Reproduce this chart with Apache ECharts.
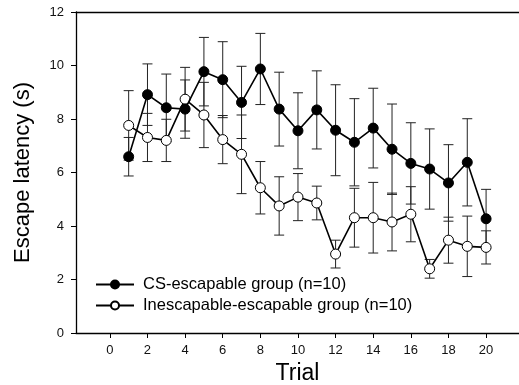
<!DOCTYPE html>
<html>
<head>
<meta charset="utf-8">
<script src="https://cdn.jsdelivr.net/npm/echarts@6/dist/echarts.min.js"></script>
<style>html,body{margin:0;padding:0;background:#fff}#c{width:519px;height:385px}</style>
</head>
<body>
<div id="c"></div>
<script>
var trials = [1,2,3,4,5,6,7,8,9,10,11,12,13,14,15,16,17,18,19,20];
var csMean = [6.59, 8.91, 8.42, 8.37, 9.77, 9.47, 8.62, 9.87, 8.37, 7.56, 8.34, 7.58, 7.13, 7.66, 6.87, 6.34, 6.13, 5.61, 6.38, 4.27];
var csErr  = [0.72, 1.15, 1.26, 1.09, 1.28, 1.42, 1.35, 1.33, 1.38, 1.42, 1.46, 1.70, 1.63, 1.49, 1.69, 1.52, 1.50, 1.43, 1.63, 1.10];
var inMean = [7.76, 7.31, 7.20, 8.74, 8.15, 7.23, 6.68, 5.43, 4.75, 5.08, 4.86, 2.95, 4.31, 4.31, 4.15, 4.44, 2.40, 3.47, 3.24, 3.20];
var inErr  = [1.30, 0.90, 0.79, 1.19, 1.22, 0.90, 1.47, 0.98, 1.09, 0.88, 0.63, 0.52, 1.10, 1.32, 1.08, 1.03, 0.35, 0.86, 1.13, 0.62];
var xTicks = [0,2,4,6,8,10,12,14,16,18,20];
var seriesNames = ['CS-escapable group (n=10)', 'Inescapable-escapable group (n=10)'];

var font = 'Liberation Sans, Arial, sans-serif';
function pts(m){ return trials.map(function(t,i){ return [t, m[i]]; }); }
function errData(m,e){ return trials.map(function(t,i){ return [t, m[i]-e[i], m[i]+e[i]]; }); }
function errRender(params, api){
  var x = api.value(0), lo = api.value(1), hi = api.value(2);
  var p1 = api.coord([x, hi]), p2 = api.coord([x, lo]);
  var w = 5;
  var st = {stroke:'#222', lineWidth:1};
  return {type:'group', children:[
    {type:'line', shape:{x1:p1[0],y1:p1[1],x2:p2[0],y2:p2[1]}, style:st},
    {type:'line', shape:{x1:p1[0]-w,y1:p1[1],x2:p1[0]+w,y2:p1[1]}, style:st},
    {type:'line', shape:{x1:p2[0]-w,y1:p2[1],x2:p2[0]+w,y2:p2[1]}, style:st}
  ]};
}

var chart = echarts.init(document.getElementById('c'), null, {renderer:'canvas'});
chart.setOption({
  animation:false,
  backgroundColor:'#fff',
  textStyle:{fontFamily:font},
  grid:{left:76, right:0, top:12, bottom:52, containLabel:false, outerBoundsMode:'none'},
  xAxis:[{
    type:'value', min:-1.8, max:21.75, position:'bottom',
    name:'Trial', nameLocation:'middle', nameGap:28,
    nameTextStyle:{fontSize:23, color:'#000', fontFamily:font},
    axisLine:{show:true, onZero:false, lineStyle:{color:'#000', width:1.3}},
    axisTick:{show:true, length:5, inside:false, customValues:xTicks, lineStyle:{color:'#000'}},
    axisLabel:{show:true, fontSize:13, color:'#111', margin:11, customValues:xTicks, fontFamily:font},
    splitLine:{show:false}
  },{
    type:'value', min:-1.8, max:21.75, position:'top',
    axisLine:{show:true, onZero:false, lineStyle:{color:'#000', width:1.3}},
    axisTick:{show:false}, axisLabel:{show:false}, splitLine:{show:false}
  }],
  yAxis:{
    type:'value', min:0, max:12, interval:2,
    name:'Escape latency (s)', nameLocation:'middle', nameGap:42,
    nameTextStyle:{fontSize:22, color:'#000', fontFamily:font},
    axisLine:{show:true, onZero:false, lineStyle:{color:'#000', width:1.3}},
    axisTick:{show:true, length:5, lineStyle:{color:'#000'}},
    axisLabel:{fontSize:13, color:'#111', margin:12, fontFamily:font},
    splitLine:{show:false}
  },
  legend:{
    orient:'vertical', left:90, top:271, itemWidth:38, itemHeight:10, itemGap:4, padding:5,
    data:seriesNames,
    textStyle:{fontSize:16.5, color:'#000', fontFamily:font, padding:[0,0,0,4], lineHeight:17}
  },
  series:[
    {type:'custom', data:errData(inMean,inErr), renderItem:errRender, z:1, silent:true, encode:{x:0,y:[1,2]}},
    {type:'custom', data:errData(csMean,csErr), renderItem:errRender, z:1, silent:true, encode:{x:0,y:[1,2]}},
    {name:seriesNames[1], type:'line', data:pts(inMean), z:3,
      symbol:'circle', symbolSize:10, showSymbol:true,
      lineStyle:{color:'#000', width:1.6},
      itemStyle:{color:'#fff', borderColor:'#000', borderWidth:1}},
    {name:seriesNames[0], type:'line', data:pts(csMean), z:4,
      symbol:'circle', symbolSize:10, showSymbol:true,
      lineStyle:{color:'#000', width:1.6},
      itemStyle:{color:'#000', borderColor:'#000', borderWidth:1}}
  ]
});
</script>
</body>
</html>
